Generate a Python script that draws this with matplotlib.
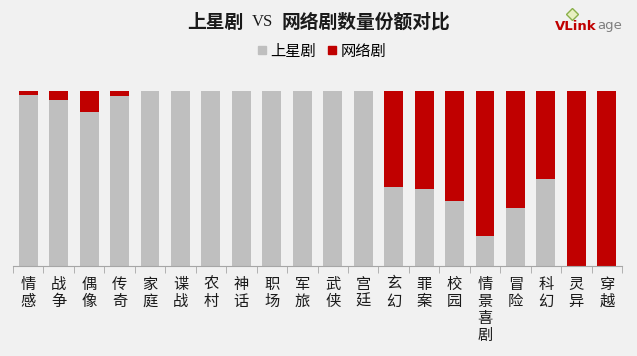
import matplotlib
matplotlib.use('Agg')
import matplotlib.pyplot as plt
from matplotlib.patches import Patch
import numpy as np

plt.rcParams['font.family'] = ['Noto Sans CJK SC', 'DejaVu Sans']

# categories and shares (percent)
genres = ['情感', '战争', '偶像', '传奇', '家庭', '谍战', '农村', '神话', '职场', '军旅',
          '武侠', '宫廷', '玄幻', '罪案', '校园', '情景喜剧', '冒险', '科幻', '灵异', '穿越']
satellite = [98, 95, 88, 97, 100, 100, 100, 100, 100, 100,
             100, 100, 45, 44, 37, 17, 33, 50, 0, 0]
online = [100 - v for v in satellite]

bg = '#f1f1f1'
grey = '#bfbfbf'
red = '#c00000'

fig = plt.figure(figsize=(6.37, 3.56), dpi=100, facecolor=bg)
ax = fig.add_axes([13/637, 1 - 266/356, 609/637, 175/356], facecolor=bg)

x = np.arange(len(genres))
ax.bar(x, satellite, width=0.62, color=grey, label='上星剧')
ax.bar(x, online, width=0.62, bottom=satellite, color=red, label='网络剧')

ax.set_xlim(-0.5, len(genres) - 0.5)
ax.set_ylim(0, 100)
for s in ['top', 'right', 'left']:
    ax.spines[s].set_visible(False)
ax.spines['bottom'].set_color('#a6a6a6')
ax.set_yticks([])
ax.set_xticks(x)
ax.set_xticklabels(['\n'.join(g) for g in genres], fontsize=11, linespacing=1.0,
                   va='top', color='#1a1a1a')
ax.tick_params(axis='x', which='major', length=0, pad=7)
ax.set_xticks(np.arange(-0.5, len(genres)), minor=True)
ax.tick_params(axis='x', which='minor', length=5, color='#a6a6a6')

# title in three pieces ("VS" is in a serif face)
ty = 1 - 22/356
t1 = fig.text(187/637, ty, '上星剧', ha='left', va='center',
              fontsize=13.5, fontweight='bold', color='#1a1a1a')
t2 = ax.annotate('VS', xy=(1, 0.5), xycoords=t1, xytext=(6, 0), textcoords='offset points',
                 ha='left', va='center', fontsize=12, color='#1a1a1a',
                 family=['Liberation Serif'], annotation_clip=False)
ax.annotate('网络剧数量份额对比', xy=(1, 0.5), xycoords=t2, xytext=(6, 0),
            textcoords='offset points', ha='left', va='center', fontsize=13.5,
            fontweight='bold', color='#1a1a1a', annotation_clip=False)

# legend
handles = [Patch(color=grey, label='上星剧'), Patch(color=red, label='网络剧')]
fig.legend(handles=handles, loc='center', bbox_to_anchor=(322/637, 1 - 51/356), ncol=2,
           frameon=False, fontsize=11, handlelength=0.5, handleheight=0.5,
           handletextpad=0.3, columnspacing=0.8)

# logo
l1 = fig.text(555/637, 1 - 26/356, 'VLink', ha='left', va='center', fontsize=9.5,
              fontweight='bold', color='#c00000', family=['DejaVu Sans'])
ax.annotate('age', xy=(1, 0), xycoords=l1, xytext=(0.5, 0), textcoords='offset points',
            ha='left', va='bottom', fontsize=9.5, color='#7f7f7f',
            family=['DejaVu Sans'], annotation_clip=False)
fig.lines.append(plt.Line2D([572/637], [1 - 14/356], marker='D', markersize=6,
                            markerfacecolor='#e8f0c0', markeredgecolor='#8ab04a',
                            transform=fig.transFigure, figure=fig))

fig.savefig('out.png', dpi=100, facecolor=bg)
